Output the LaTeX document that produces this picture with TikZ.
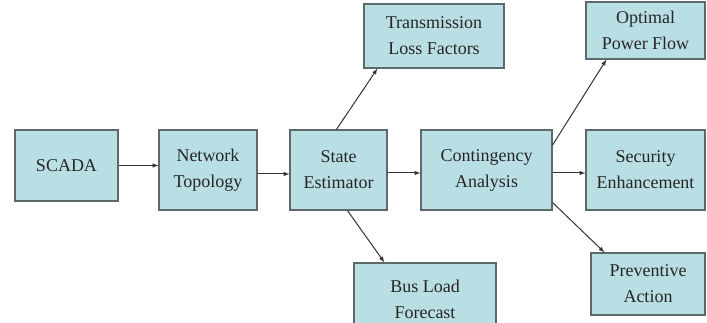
\documentclass[tikz,border=0pt]{standalone}
\usepackage{fontspec}
\setmainfont{Liberation Serif}
\usepackage{tikz}

\definecolor{boxfill}{RGB}{185,222,228}
\definecolor{boxline}{RGB}{95,105,108}

\begin{document}
\begin{tikzpicture}[x=1pt,y=-1pt,
    block/.style={draw=boxline, line width=1.2pt, fill=boxfill, align=center,
      inner sep=0pt, font=\fontsize{18}{26}\selectfont, text=black!85},
    flow/.style={->, >=latex, draw=black!80, line width=1pt}]
    \useasboundingbox (0,0) rectangle (707,323);
    \def \tall {80pt} % height of the middle row
    % middle row
    \node[block, minimum width=103pt, minimum height=71pt] (scada) at (66.5,165.5) {SCADA};
    \node[block, minimum width=98pt, minimum height=\tall] (topo) at (208,170) {Network\\Topology};
    \node[block, minimum width=97pt, minimum height=\tall] (estim) at (338.5,170) {State\\Estimator};
    \node[block, minimum width=131pt, minimum height=\tall] (contin) at (486.5,170) {Contingency\\Analysis};
    \node[block, minimum width=119pt, minimum height=\tall] (secur) at (645.5,170) {Security\\Enhancement};
    % upper and lower boxes
    \node[block, minimum width=140pt, minimum height=64pt] (loss) at (434,36) {Transmission\\Loss Factors};
    \node[block, minimum width=119pt, minimum height=57pt] (opf) at (645.5,30.5) {Optimal\\Power Flow};
    \node[block, minimum width=142pt, minimum height=72pt] (busload) at (425,299) {Bus Load\\Forecast};
    \node[block, minimum width=114pt, minimum height=62pt] (prevent) at (648,284) {Preventive\\Action};
    % connectors
    \draw[flow] (scada.east) -- (scada.east -| topo.west);
    \draw[flow] ([yshift=-4pt]topo.east) -- ([yshift=-4pt]estim.west);
    \draw[flow] ([yshift=-3pt]estim.east) -- ([yshift=-3pt]contin.west);
    \draw[flow] ([yshift=-3pt]contin.east) -- ([yshift=-3pt]secur.west);
    \draw[flow] ([xshift=-2pt]estim.north) -- ([xshift=14pt]loss.south west);
    \draw[flow] ([xshift=9pt]estim.south) -- ([xshift=31pt]busload.north west);
    \draw[flow] ([yshift=25pt]contin.east) -- ([xshift=21pt]opf.south west);
    \draw[flow] ([yshift=8pt]contin.south east) -- ([xshift=14pt]prevent.north west);
\end{tikzpicture}
\end{document}
